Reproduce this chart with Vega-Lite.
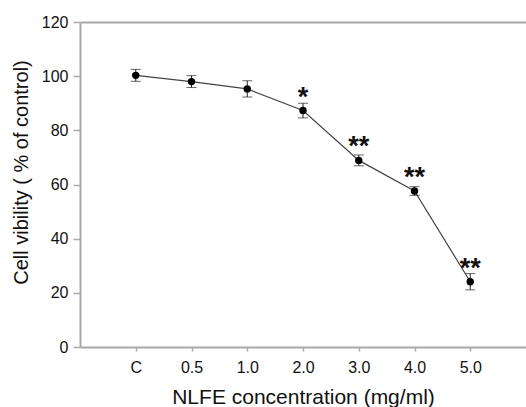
{
  "$schema": "https://vega.github.io/schema/vega-lite/v6.json",
  "width": 446,
  "height": 325,
  "autosize": "none",
  "padding": {"left": 80, "top": 22, "right": 0, "bottom": 60},
  "background": "white",
  "config": {
    "view": {"stroke": null},
    "font": "Liberation Sans",
    "axis": {
      "labelFont": "Liberation Sans",
      "titleFont": "Liberation Sans",
      "labelColor": "#111",
      "titleColor": "#111",
      "titleFontWeight": "normal",
      "domainColor": "#a8a8a8",
      "domainWidth": 2,
      "tickColor": "#a8a8a8",
      "tickWidth": 1.5
    }
  },
  "data": {
    "values": [
      {"conc": "C", "mean": 100.3, "err": 2.2, "sig": ""},
      {"conc": "0.5", "mean": 98.0, "err": 2.2, "sig": ""},
      {"conc": "1.0", "mean": 95.3, "err": 3.0, "sig": ""},
      {"conc": "2.0", "mean": 87.3, "err": 2.7, "sig": "*"},
      {"conc": "3.0", "mean": 68.9, "err": 2.0, "sig": "**"},
      {"conc": "4.0", "mean": 57.6, "err": 1.6, "sig": "**"},
      {"conc": "5.0", "mean": 24.1, "err": 3.0, "sig": "**"}
    ]
  },
  "encoding": {
    "x": {
      "field": "conc",
      "type": "ordinal",
      "sort": null,
      "scale": {"type": "point", "padding": 1},
      "axis": {
        "title": "NLFE concentration (mg/ml)",
        "labelAngle": 0,
        "labelFontSize": 16,
        "labelBaseline": "middle",
        "titleFontSize": 21,
        "tickSize": 4,
        "labelPadding": 16,
        "titleBaseline": "middle",
        "titleY": 50
      }
    }
  },
  "layer": [
    {
      "mark": {"type": "line", "color": "#444", "strokeWidth": 1.2},
      "encoding": {
        "y": {
          "field": "mean",
          "type": "quantitative",
          "title": "Cell vibility ( % of control)",
          "scale": {"domain": [0, 120], "nice": false},
          "axis": {
            "values": [0, 20, 40, 60, 80, 100, 120],
            "labelFontSize": 16,
            "titleFontSize": 20,
            "tickSize": 7,
            "labelPadding": 5,
            "titleAngle": -90,
            "titleAlign": "center",
            "titleBaseline": "middle",
            "titleX": -59,
            "titleY": 150,
            "grid": true,
            "gridColor": "#a8a8a8",
            "gridWidth": 2,
            "gridOpacity": {"condition": {"test": "datum.value === 120", "value": 1}, "value": 0}
          }
        }
      }
    },
    {
      "mark": {"type": "errorbar", "ticks": {"size": 10, "color": "#222", "strokeWidth": 1}, "rule": {"color": "#222", "strokeWidth": 1}},
      "encoding": {
        "y": {"field": "mean", "type": "quantitative", "title": "Cell vibility ( % of control)"},
        "yError": {"field": "err"}
      }
    },
    {
      "mark": {"type": "circle", "color": "black", "opacity": 1, "size": 55},
      "encoding": {"y": {"field": "mean", "type": "quantitative", "title": "Cell vibility ( % of control)"}}
    },
    {
      "transform": [{"filter": "datum.sig !== ''"}],
      "mark": {"type": "text", "fontSize": 27, "fontWeight": "bold", "baseline": "alphabetic", "dy": -5, "color": "#111"},
      "encoding": {
        "y": {"field": "mean", "type": "quantitative", "title": "Cell vibility ( % of control)"},
        "text": {"field": "sig"}
      }
    }
  ]
}
